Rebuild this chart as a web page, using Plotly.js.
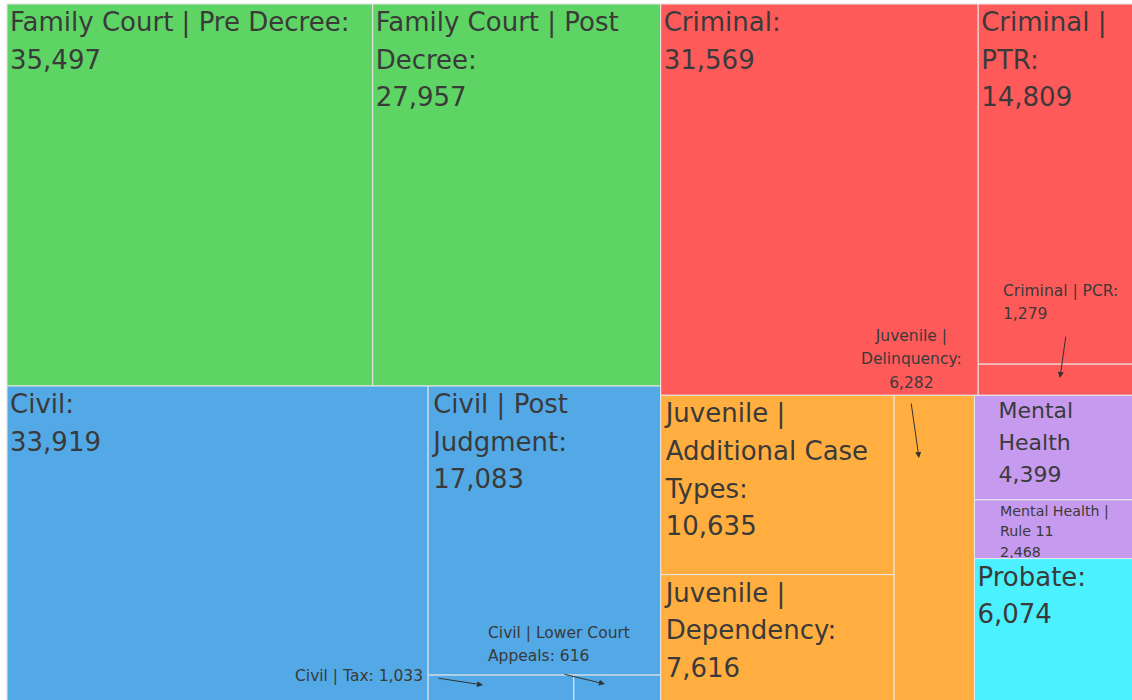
<!DOCTYPE html>
<html>
<head>
<meta charset="utf-8">
<script src="https://cdn.plot.ly/plotly-3.0.1.min.js"></script>
<style>
  html, body { margin: 0; padding: 0; background: #ffffff; overflow: hidden; }
  #chart { width: 1140px; height: 703px; }
</style>
</head>
<body>
<div id="chart"></div>
<script>
// ---- data ----
const groups = ['Family Court', 'Criminal', 'Civil', 'Juvenile', 'Mental Health', 'Probate'];
const caseTypes = [
  'Family Court | Pre Decree', 'Family Court | Post Decree',
  'Criminal', 'Criminal | PTR', 'Criminal | PCR',
  'Civil', 'Civil | Post Judgment', 'Civil | Tax', 'Civil | Lower Court Appeals',
  'Juvenile | Additional Case Types', 'Juvenile | Dependency', 'Juvenile | Delinquency',
  'Mental Health', 'Mental Health | Rule 11',
  'Probate'
];
const caseGroup = [
  'Family Court', 'Family Court',
  'Criminal', 'Criminal', 'Criminal',
  'Civil', 'Civil', 'Civil', 'Civil',
  'Juvenile', 'Juvenile', 'Juvenile',
  'Mental Health', 'Mental Health',
  'Probate'
];
const caseCounts = [35497, 27957, 31569, 14809, 1279, 33919, 17083, 1033, 616, 10635, 7616, 6282, 4399, 2468, 6074];
// display labels (with line breaks as in the reference)
const displayLabels = [
  'Family Court | Pre Decree:', 'Family Court | Post<br>Decree:',
  'Criminal:', 'Criminal |<br>PTR:', 'Criminal | PCR:<br>',
  'Civil:', 'Civil | Post<br>Judgment:', 'Civil | Tax: ', 'Civil | Lower Court<br>Appeals: ',
  'Juvenile |<br>Additional Case<br>Types:', 'Juvenile |<br>Dependency:', 'Juvenile |<br>Delinquency:<br>',
  'Mental<br>Health', 'Mental Health |<br>Rule 11',
  'Probate:'
];
// case types labelled with a callout arrow instead of inside text
const calloutTypes = ['Criminal | PCR', 'Juvenile | Delinquency', 'Civil | Tax', 'Civil | Lower Court Appeals'];

// ---- styles ----
const groupColors = {
  'Family Court': '#5DD463',
  'Criminal': '#FF5A5A',
  'Civil': '#52A9E6',
  'Juvenile': '#FFAE3F',
  'Mental Health': '#C69AEE',
  'Probate': '#4BF1FE'
};
const FONT = 'DejaVu Sans, sans-serif';
const TEXT_COLOR = '#3a3a3a';
const sizeFor = { 'Mental Health': 22, 'Mental Health | Rule 11': 14.5 };
const indentFor = { 'Mental Health': 3, 'Mental Health | Rule 11': 5 };
const CELL_LINE_SPACING = 1.45;   // em, between label lines inside cells
const CALLOUT_LINE_SPACING = 1.5; // em, between callout label lines

// ---- build hierarchy ----
const ids = [], labels = [], parents = [], values = [], colors = [], texts = [], templates = [], sizes = [];
groups.forEach(g => {
  ids.push('g:' + g); labels.push(g); parents.push(''); values.push(0);
  colors.push(groupColors[g]); texts.push(''); templates.push(''); sizes.push(12);
});
caseTypes.forEach((c, i) => {
  ids.push('c:' + c); labels.push(c); parents.push('g:' + caseGroup[i]); values.push(caseCounts[i]);
  colors.push(groupColors[caseGroup[i]]);
  const ind = '\u00A0'.repeat(indentFor[c] || 0);
  texts.push(ind + displayLabels[i].split('<br>').join('<br>' + ind));
  templates.push(calloutTypes.includes(c) ? '' : '%{text}<br>' + ind + '%{value:,}');
  sizes.push(sizeFor[c] || 26);
});

const trace = {
  type: 'treemap',
  ids, labels, parents, values,
  branchvalues: 'remainder',
  sort: true,
  tiling: { packing: 'squarify', squarifyratio: 1.618034, pad: 0 },
  marker: { colors, line: { color: '#e8e8e8', width: 1 }, pad: { t: 0, l: 0, r: 0, b: 0 } },
  leaf: { opacity: 1 },
  pathbar: { visible: false },
  root: { color: '#ffffff' },
  text: texts,
  texttemplate: templates,
  textposition: 'top left',
  textfont: { family: FONT, size: sizes, color: TEXT_COLOR },
  hoverinfo: 'label+value'
};

// ---- callout annotations (pixel positions in the 1140x703 page) ----
const L = 7, T = 4, PW = 1133, PH = 699;
const px = x => (x - L) / PW;
const py = y => 1 - (y - T) / PH;
const fmt = v => v.toLocaleString('en-US');
const idx = name => caseTypes.indexOf(name);
const calloutText = name => displayLabels[idx(name)] + fmt(caseCounts[idx(name)]);
const small = { family: FONT, size: 15.5, color: TEXT_COLOR };

const annotations = [
  { text: calloutText('Criminal | PCR'), x: px(1001), y: py(301), xanchor: 'left', yanchor: 'middle', align: 'left' },
  { text: calloutText('Juvenile | Delinquency'), x: px(912), y: py(356), xanchor: 'center', yanchor: 'middle', align: 'center' },
  { text: calloutText('Civil | Tax'), x: px(425), y: py(676), xanchor: 'right', yanchor: 'middle', align: 'right' },
  { text: calloutText('Civil | Lower Court Appeals'), x: px(486), y: py(642.5), xanchor: 'left', yanchor: 'middle', align: 'left' }
].map(a => Object.assign({ xref: 'paper', yref: 'paper', showarrow: false, font: small }, a));

// arrows: head position + tail offset
const arrows = [
  { hx: 1060, hy: 378, tx: 1066, ty: 335 },
  { hx: 919, hy: 458, tx: 911, ty: 402 },
  { hx: 483, hy: 685, tx: 437, ty: 678 },
  { hx: 605, hy: 684, tx: 563, ty: 674 }
];
arrows.forEach(a => annotations.push({
  xref: 'paper', yref: 'paper', x: px(a.hx), y: py(a.hy),
  ax: a.tx - a.hx, ay: a.ty - a.hy, text: '', showarrow: true,
  arrowhead: 2, arrowsize: 1.2, arrowwidth: 1, arrowcolor: '#333333', standoff: 0
}));

const layout = {
  width: 1140, height: 703,
  margin: { l: L, t: T, r: 0, b: 0, pad: 0 },
  paper_bgcolor: '#ffffff',
  font: { family: FONT, color: TEXT_COLOR },
  annotations,
  showlegend: false
};

// widen the line spacing of multi-line labels (top-anchored, so first line stays put)
function spaceLines(selector, factor) {
  document.querySelectorAll(selector).forEach(t => {
    const dy = t.getAttribute('dy');
    if (!dy) return;
    const n = parseFloat(dy) / 1.3;
    if (isFinite(n)) t.setAttribute('dy', (n * factor) + 'em');
  });
}

Plotly.newPlot('chart', [trace], layout, { displayModeBar: false, staticPlot: true }).then(() => {
  spaceLines('.slicetext tspan.line', CELL_LINE_SPACING);
  spaceLines('.annotation-text tspan.line', CALLOUT_LINE_SPACING);
});
</script>
</body>
</html>
